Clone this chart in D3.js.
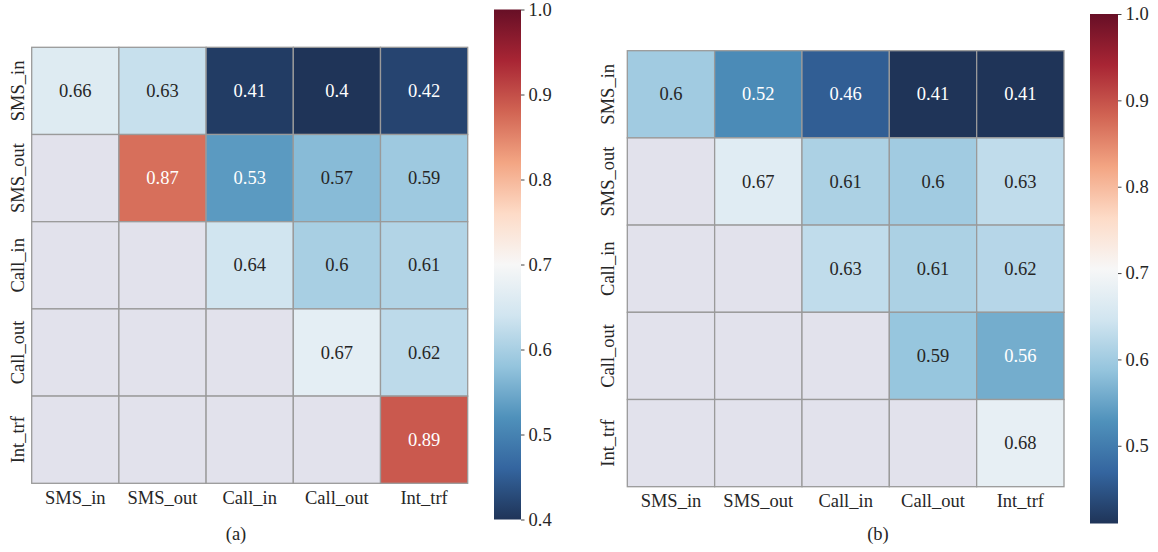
<!DOCTYPE html>
<html>
<head>
<meta charset="utf-8">
<script src="https://cdn.jsdelivr.net/npm/d3@7"></script>
<style>
  html, body { margin: 0; padding: 0; background: #ffffff; }
  svg text { font-family: 'Liberation Serif', 'Times New Roman', Times, serif !important; }
</style>
</head>
<body>
<svg id="chart" width="1158" height="552"></svg>
<script>
// ---------------- data ----------------
const categories = ["SMS_in", "SMS_out", "Call_in", "Call_out", "Int_trf"];

// panel (a): upper-triangular correlation matrix (null = masked)
const valuesA = [
  [0.66, 0.63, 0.41, 0.40, 0.42],
  [null, 0.87, 0.53, 0.57, 0.59],
  [null, null, 0.64, 0.60, 0.61],
  [null, null, null, 0.67, 0.62],
  [null, null, null, null, 0.89]
];

// panel (b)
const valuesB = [
  [0.60, 0.52, 0.46, 0.41, 0.41],
  [null, 0.67, 0.61, 0.60, 0.63],
  [null, null, 0.63, 0.61, 0.62],
  [null, null, null, 0.59, 0.56],
  [null, null, null, null, 0.68]
];

const ticksA = [0.4, 0.5, 0.6, 0.7, 0.8, 0.9, 1.0];
const ticksB = [0.5, 0.6, 0.7, 0.8, 0.9, 1.0];
const captions = ["(a)", "(b)"];

// matplotlib RdBu_r anchor colours
const rdbuR = ["#053061", "#2166ac", "#4393c3", "#92c5de", "#d1e5f0", "#f7f7f7",
               "#fddbc7", "#f4a582", "#d6604d", "#b2182b", "#67001f"];

// darker colours look a little washed out in the reference print
function soften(c) {
  const k = d3.rgb(c);
  const l = 0.299 * k.r + 0.587 * k.g + 0.114 * k.b;
  const dark = Math.max(0, 1 - l / 200);
  const s = 0.25 * dark, gmix = 0.08 * dark;
  let r = k.r + (l - k.r) * s, g = k.g + (l - k.g) * s, b = k.b + (l - k.b) * s;
  r = r + (128 - r) * gmix; g = g + (128 - g) * gmix; b = b + (128 - b) * gmix;
  r += 14 * dark;
  return d3.rgb(r, g, b).formatHex();
}
const palette = rdbuR.map(soften);

// ---------------- layout ----------------
const panels = [
  { values: valuesA, ticks: ticksA, caption: captions[0],
    x0: 31.7, x1: 467.7, y0: 47.3, y1: 483.3,
    cb: { x: 494, w: 27, top: 9.5, bottom: 519.5 },
    ylabX: 24, xlabDy: 20.6, capX: 236, capY: 540 },
  { values: valuesB, ticks: ticksB, caption: captions[1],
    x0: 627.3, x1: 1064, y0: 50.7, y1: 486.7,
    cb: { x: 1090, w: 28, top: 14, bottom: 523.5 },
    ylabX: 614, xlabDy: 20.2, capX: 878, capY: 540 }
];

const svg = d3.select("#chart");
const textColDark = "#262626";
const fontSize = 18.5;
const fontFam = "'Liberation Serif', 'Times New Roman', Times, serif";

function relLum(c) {
  const rgb = d3.rgb(c);
  const f = v => { v /= 255; return v <= 0.03928 ? v / 12.92 : Math.pow((v + 0.055) / 1.055, 2.4); };
  return 0.2126 * f(rgb.r) + 0.7152 * f(rgb.g) + 0.0722 * f(rgb.b);
}

const fmt = d3.format(".2~g");

panels.forEach((p, pi) => {
  const flat = p.values.flat().filter(v => v !== null);
  const vmin = d3.min(flat), vmax = 1.0;
  const stops = d3.range(11).map(i => vmin + (vmax - vmin) * i / 10);

  const color = d3.scaleLinear().domain(stops).range(palette)
    .interpolate(d3.interpolateRgb).clamp(true);
  const colorRaw = d3.scaleLinear().domain(stops).range(rdbuR)
    .interpolate(d3.interpolateRgb).clamp(true);

  const x = d3.scaleBand().domain(categories).range([p.x0, p.x1]).padding(0);
  const y = d3.scaleBand().domain(categories).range([p.y0, p.y1]).padding(0);

  const g = svg.append("g").attr("class", "panel-" + pi).attr("font-family", fontFam);

  // cells
  const cells = [];
  p.values.forEach((row, ri) => row.forEach((v, ci) => {
    cells.push({ r: categories[ri], c: categories[ci], v });
  }));

  g.selectAll("rect.cell").data(cells).join("rect")
    .attr("class", "cell")
    .attr("x", d => x(d.c))
    .attr("y", d => y(d.r))
    .attr("width", x.bandwidth())
    .attr("height", y.bandwidth())
    .attr("fill", d => d.v === null ? "#e2e2ec" : color(d.v))
    .attr("stroke", "#9a9a9a")
    .attr("stroke-width", 1.3);

  // annotations
  g.selectAll("text.annot").data(cells.filter(d => d.v !== null)).join("text")
    .attr("class", "annot")
    .attr("x", d => x(d.c) + x.bandwidth() / 2)
    .attr("y", d => y(d.r) + y.bandwidth() / 2)
    .attr("text-anchor", "middle")
    .attr("dominant-baseline", "central")
    .attr("font-size", fontSize)
    .attr("fill", d => relLum(colorRaw(d.v)) > 0.408 ? textColDark : "#ffffff")
    .text(d => fmt(d.v));

  // x tick labels
  g.selectAll("text.xlab").data(categories).join("text")
    .attr("class", "xlab")
    .attr("x", d => x(d) + x.bandwidth() / 2)
    .attr("y", p.y1 + p.xlabDy)
    .attr("text-anchor", "middle")
    .attr("font-size", fontSize)
    .attr("fill", textColDark)
    .text(d => d);

  // y tick labels (rotated)
  g.selectAll("text.ylab").data(categories).join("text")
    .attr("class", "ylab")
    .attr("transform", d => `translate(${p.ylabX},${y(d) + y.bandwidth() / 2}) rotate(-90)`)
    .attr("text-anchor", "middle")
    .attr("font-size", fontSize)
    .attr("fill", textColDark)
    .text(d => d);

  // colorbar
  const cbScale = d3.scaleLinear().domain([vmin, vmax]).range([p.cb.bottom, p.cb.top]);
  const gradId = "grad" + pi;
  const grad = svg.append("defs").append("linearGradient")
    .attr("id", gradId).attr("x1", 0).attr("y1", 1).attr("x2", 0).attr("y2", 0);
  grad.selectAll("stop").data(d3.range(11)).join("stop")
    .attr("offset", i => i / 10)
    .attr("stop-color", i => palette[i]);

  g.append("rect")
    .attr("x", p.cb.x)
    .attr("y", p.cb.top)
    .attr("width", p.cb.w)
    .attr("height", p.cb.bottom - p.cb.top)
    .attr("fill", `url(#${gradId})`);

  const axis = d3.axisRight(cbScale)
    .tickValues(p.ticks)
    .tickSize(3.5)
    .tickPadding(4)
    .tickFormat(d3.format(".1f"));

  const ag = g.append("g")
    .attr("transform", `translate(${p.cb.x + p.cb.w},0)`)
    .call(axis);
  ag.attr("font-family", fontFam).attr("font-size", fontSize);
  ag.select(".domain").remove();
  ag.selectAll(".tick line").attr("stroke", "#444").attr("stroke-width", 1);
  ag.selectAll(".tick text").attr("fill", textColDark);

  // caption
  g.append("text")
    .attr("x", p.capX)
    .attr("y", p.capY)
    .attr("text-anchor", "middle")
    .attr("font-size", fontSize)
    .attr("fill", textColDark)
    .text(p.caption);
});
</script>
</body>
</html>
